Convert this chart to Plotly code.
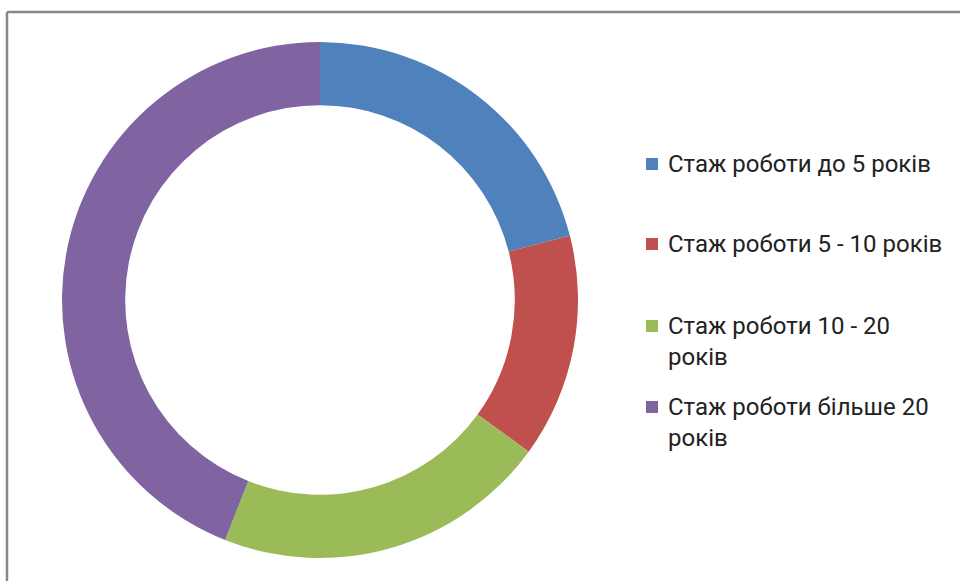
import plotly.graph_objects as go

# Data
categories = [
    "Стаж роботи до 5 років",
    "Стаж роботи 5 - 10 років",
    "Стаж роботи 10 - 20<br>років",
    "Стаж роботи більше 20<br>років",
]
values = [21, 14, 21, 44]
colors = ["#4F81BD", "#C0504D", "#9BBB59", "#8064A2"]

W, H = 960, 581
FONT = "Roboto"

fig = go.Figure()
fig.add_trace(go.Pie(
    labels=categories,
    values=values,
    hole=0.755,
    sort=False,
    direction="clockwise",
    rotation=0,
    marker=dict(colors=colors, line=dict(color="white", width=0)),
    textinfo="none",
    hoverinfo="label+value",
    showlegend=False,
    domain=dict(x=[62 / W, 578 / W], y=[(H - 558) / H, (H - 42) / H]),
))

# Legend drawn as annotations + squares
legend_centers = [164, 244, 326, 407]  # px from top, first line centre
for lab, col, yc in zip(categories, colors, legend_centers):
    fig.add_shape(type="rect", xref="paper", yref="paper",
                  x0=646 / W, x1=658 / W,
                  y0=(H - (yc + 6)) / H, y1=(H - (yc - 6)) / H,
                  fillcolor=col, line=dict(width=0))
    fig.add_annotation(text=lab, xref="paper", yref="paper",
                       x=666 / W, y=(H - (yc - 16)) / H,
                       xanchor="left", yanchor="top", align="left",
                       showarrow=False,
                       font=dict(family=FONT, size=24, color="#222222"))

# Chart frame (left and top edges visible)
fig.add_shape(type="line", xref="paper", yref="paper",
              x0=7 / W, x1=7 / W, y0=0, y1=(H - 12) / H,
              line=dict(color="#888888", width=2.5))
fig.add_shape(type="line", xref="paper", yref="paper",
              x0=7 / W, x1=1, y0=(H - 12) / H, y1=(H - 12) / H,
              line=dict(color="#888888", width=2.5))

fig.update_layout(
    width=W, height=H,
    margin=dict(l=0, r=0, t=0, b=0),
    paper_bgcolor="white",
    plot_bgcolor="white",
    font=dict(family=FONT),
)

fig.write_html("out.html", config={"displayModeBar": False},
               post_script="document.body.style.margin='0';")
